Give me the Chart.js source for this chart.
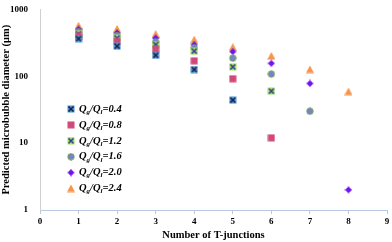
<!DOCTYPE html>
<html><head><meta charset="utf-8">
<script src="https://cdn.jsdelivr.net/npm/chart.js@4/dist/chart.umd.min.js"></script>
<style>html,body{margin:0;padding:0;background:#fff}#wrap{width:392px;height:242px;position:relative}</style>
</head><body><div id="wrap"><canvas id="c" width="392" height="242"></canvas></div>
<script>
const junctions = [1, 2, 3, 4, 5, 6, 7, 8];
const ratioLabels = ["0.4", "0.8", "1.2", "1.6", "2.0", "2.4"];
const s04 = [365, 282, 206, 126, 44];
const s08 = [394, 333, 252, 170, 92, 12];
const s12 = [431, 373, 298, 238, 138, 60];
const s16 = [466, 407, 327, 267, 187, 108, 30];
const s20 = [505, 446, 373, 298, 234, 156, 78, 2];
const s24 = [569, 510, 427, 352, 272, 201, 126, 59];
const yTicks = [1, 10, 100, 1000];
const xTicks = [0, 1, 2, 3, 4, 5, 6, 7, 8, 9];

function mk(draw){const c=document.createElement('canvas');c.width=8;c.height=8;const g=c.getContext('2d');draw(g);return c;}
const markers = [
  mk(g=>{g.fillStyle='#4f94d4';g.fillRect(0.5,0.5,7,7);g.strokeStyle='#13204a';g.lineWidth=1.5;g.beginPath();g.moveTo(1.5,1.5);g.lineTo(6.5,6.5);g.moveTo(6.5,1.5);g.lineTo(1.5,6.5);g.stroke();}),
  mk(g=>{g.fillStyle='#d1497a';g.fillRect(0.5,0.5,7,7);}),
  mk(g=>{g.fillStyle='#a6dd5a';g.fillRect(0.5,0.5,7,7);g.strokeStyle='#2c3f9a';g.lineWidth=1.5;g.beginPath();g.moveTo(1.5,1.5);g.lineTo(6.5,6.5);g.moveTo(6.5,1.5);g.lineTo(1.5,6.5);g.stroke();}),
  mk(g=>{g.fillStyle='#7c7fcf';g.strokeStyle='#6aa84f';g.lineWidth=1;g.beginPath();g.arc(4,4,3.2,0,Math.PI*2);g.fill();g.stroke();}),
  mk(g=>{g.fillStyle='#7314f0';g.beginPath();g.moveTo(4,0);g.lineTo(5.4,2.6);g.lineTo(8,4);g.lineTo(5.4,5.4);g.lineTo(4,8);g.lineTo(2.6,5.4);g.lineTo(0,4);g.lineTo(2.6,2.6);g.closePath();g.fill();g.fillRect(2,2,4,4);}),
  mk(g=>{g.fillStyle='#f7934a';g.beginPath();g.moveTo(4,0);g.lineTo(8,7.5);g.lineTo(0,7.5);g.closePath();g.fill();})
];
const series = [s04, s08, s12, s16, s20, s24];
const datasets = series.map((s,i)=>({
  label: 'Qg/Ql=' + ratioLabels[i],
  data: s.map((v,j)=>({x: junctions[j], y: v})),
  pointStyle: markers[i],
  showLine: false
}));

const legendPlugin = {
  id: 'qlegend',
  afterDraw(chart){
    const ctx = chart.ctx;
    ctx.save();
    const x0 = 71, y0 = 109, dy = 15.9;
    ratioLabels.forEach((r,i)=>{
      const y = y0 + i*dy;
      ctx.drawImage(markers[i], x0-4, y-4);
      let x = 79;
      ctx.fillStyle = '#000';
      ctx.textBaseline = 'middle';
      ctx.textAlign = 'left';
      const big = 'italic bold 10.5px "Liberation Serif"';
      const small = 'italic bold 7px "Liberation Serif"';
      const parts = [['Q',big,0],['g',small,3],['/Q',big,0],['l',small,3],['='+r,big,0]];
      parts.forEach(p=>{ctx.font=p[1];ctx.fillText(p[0],x,y+p[2]);x+=ctx.measureText(p[0]).width;});
    });
    ctx.restore();
  }
};

new Chart(document.getElementById('c'), {
  type: 'scatter',
  data: { datasets },
  options: {
    responsive: false,
    animation: false,
    layout: { padding: { top: 4, right: 3, left: 0, bottom: 0 } },
    plugins: { legend: { display: false }, tooltip: { enabled: false } },
    scales: {
      x: {
        type: 'linear', min: 0, max: 9,
        afterBuildTicks: a => { a.ticks = xTicks.map(v=>({value:v})); },
        grid: { display: true, drawOnChartArea: false, drawTicks: true, tickLength: 4, color: '#b7c9e3' },
        border: { color: '#b7c9e3', width: 1 },
        ticks: { color: '#000', font: { family: 'Liberation Serif', weight: 'bold', size: 9 }, padding: 2, maxRotation: 0 },
        title: { display: true, text: 'Number of T-junctions', color: '#000', font: { family: 'Liberation Serif', weight: 'bold', size: 10.5 }, padding: { top: 1, bottom: 0 } },
        afterFit: a => { a.height = 32; }
      },
      y: {
        type: 'logarithmic', min: 1, max: 1000,
        afterBuildTicks: a => { a.ticks = yTicks.map(v=>({value:v})); },
        grid: { display: false },
        border: { color: '#d0d0d0', width: 1 },
        ticks: { color: '#000', font: { family: 'Liberation Serif', weight: 'bold', size: 9 }, padding: 4, callback: v => String(v) },
        title: { display: true, text: 'Predicted microbubble diameter (μm)', color: '#000', font: { family: 'Liberation Serif', weight: 'bold', size: 10.5 }, padding: { top: 0, bottom: 0 } },
        afterFit: a => { a.width = 40; }
      }
    }
  },
  plugins: [legendPlugin]
});
</script></body></html>
